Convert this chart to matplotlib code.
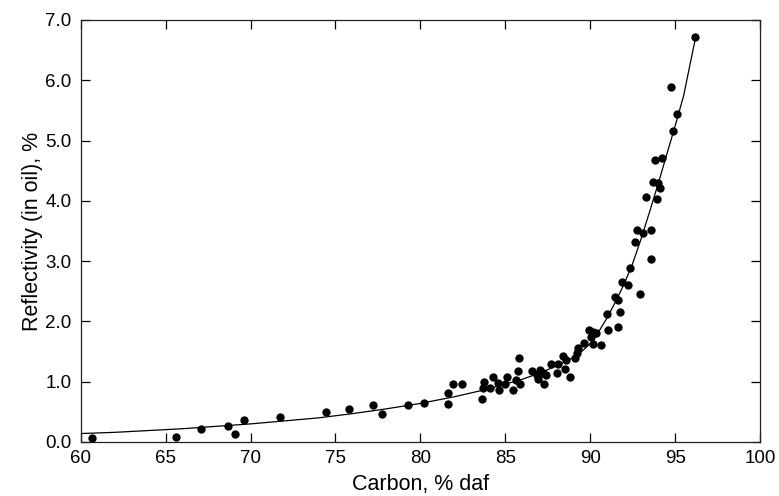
import numpy as np
import matplotlib
matplotlib.use("Agg")
import matplotlib.pyplot as plt

# измеренные точки: углерод (% daf) и отражательная способность (%)
carbon = [60.69, 65.59, 67.09, 68.66, 69.07, 69.63, 71.73, 74.47, 75.81, 77.22,
          77.76, 79.25, 80.24, 81.65, 81.65, 81.94, 82.44,
          83.62, 83.75, 83.71, 84.26, 84.10, 84.65, 84.59, 85.12, 84.99, 85.48,
          85.64, 85.77, 85.81, 85.87, 86.56, 86.85, 87.05, 87.21, 86.95, 87.28,
          87.40, 87.68, 88.07, 88.13, 88.42, 88.52, 88.58, 88.82, 89.11, 89.21,
          89.31, 89.64, 89.96, 90.19, 90.35, 90.04, 90.15, 90.62, 91.07, 91.66,
          90.98, 91.76, 91.47, 91.66, 91.86, 92.25, 92.94, 92.35, 92.64, 92.74,
          93.13, 93.57, 93.57, 93.29, 93.96, 93.72, 94.02, 94.12, 93.82, 94.21,
          94.90, 95.14, 94.75, 96.18]
reflect = [0.07, 0.08, 0.22, 0.26, 0.13, 0.36, 0.41, 0.49, 0.54, 0.61,
           0.46, 0.62, 0.65, 0.81, 0.63, 0.96, 0.96,
           0.72, 1.00, 0.89, 1.08, 0.89, 0.87, 0.98, 1.08, 0.97, 0.86,
           1.03, 1.18, 1.39, 0.96, 1.17, 1.11, 1.19, 1.15, 1.04, 0.97,
           1.11, 1.29, 1.14, 1.29, 1.43, 1.21, 1.36, 1.07, 1.39, 1.47,
           1.56, 1.65, 1.86, 1.83, 1.80, 1.74, 1.62, 1.61, 1.85, 1.91,
           2.13, 2.16, 2.41, 2.36, 2.65, 2.60, 2.45, 2.88, 3.31, 3.52,
           3.47, 3.52, 3.04, 4.07, 4.03, 4.32, 4.29, 4.22, 4.68, 4.71,
           5.16, 5.44, 5.89, 6.71]

# сглаживающая кривая
curve_c = [60, 62, 64, 66, 68, 70, 72, 74, 76, 78, 80, 82, 84, 86, 87, 88, 89,
           89.5, 90, 90.5, 91, 91.5, 92, 92.5, 93, 93.5, 94, 94.5, 95, 95.5, 96.2]
curve_r = [0.14, 0.16, 0.19, 0.22, 0.26, 0.30, 0.35, 0.40, 0.47, 0.55, 0.64,
           0.75, 0.88, 1.04, 1.14, 1.26, 1.40, 1.50, 1.63, 1.83, 2.06, 2.33,
           2.62, 2.96, 3.37, 3.82, 4.28, 4.76, 5.24, 5.74, 6.70]

x_ticks = [60, 65, 70, 75, 80, 85, 90, 95, 100]
y_ticks = [0.0, 1.0, 2.0, 3.0, 4.0, 5.0, 6.0, 7.0]

plt.rcParams['font.family'] = ['Liberation Sans', 'DejaVu Sans']

fig = plt.figure(figsize=(7.79, 4.96), dpi=100)
ax = fig.add_axes([0.1036, 0.1089, 0.9756 - 0.1036, 0.9597 - 0.1089])

ax.plot(curve_c, curve_r, color='black', linewidth=0.9, zorder=2)
ax.plot(carbon, reflect, linestyle='none', marker='o', markersize=6,
        markerfacecolor='black', markeredgecolor='black', markeredgewidth=0,
        zorder=3)

ax.set_xlim(60, 100)
ax.set_ylim(0, 7.0)
ax.set_xticks(x_ticks)
ax.set_yticks(y_ticks)
ax.set_yticklabels(['%.1f' % v for v in y_ticks])

ax.tick_params(direction='in', length=6.5, width=0.9, top=True, right=True,
               labelsize=13.5, colors='black')
ax.tick_params(axis='y', pad=6.5)
ax.tick_params(axis='x', pad=6)
for s in ax.spines.values():
    s.set_linewidth(0.9)
    s.set_color('#222222')

ax.set_xlabel('Carbon, % daf', fontsize=15.5, labelpad=5)
ax.set_ylabel('Reflectivity (in oil), %', fontsize=15.5, labelpad=2)

fig.savefig('out.png', dpi=100)
